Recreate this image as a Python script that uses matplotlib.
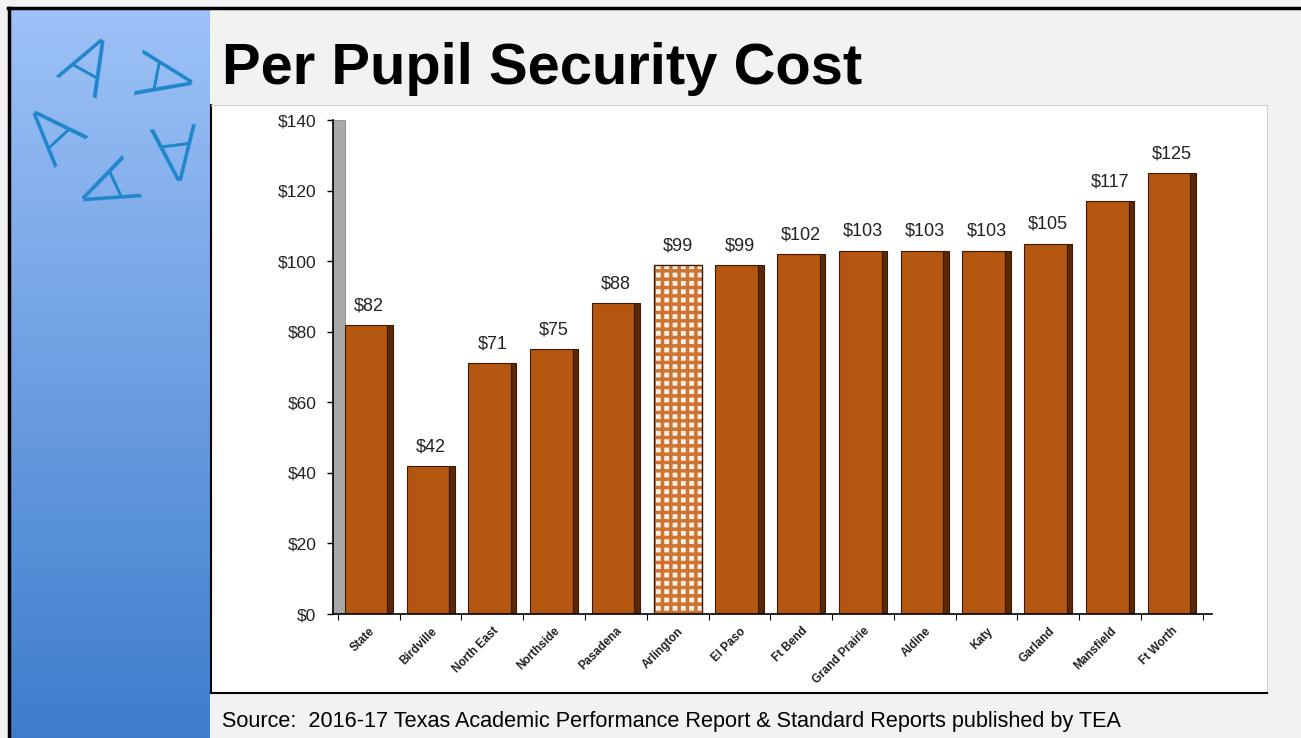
import numpy as np
import matplotlib
matplotlib.use('Agg')
import matplotlib.pyplot as plt
from matplotlib.patches import Rectangle

plt.rcParams['font.family'] = ['Liberation Sans', 'DejaVu Sans']
plt.rcParams['hatch.linewidth'] = 2.5

districts = ['State', 'Birdville', 'North East', 'Northside', 'Pasadena', 'Arlington',
             'El Paso', 'Ft Bend', 'Grand Prairie', 'Aldine', 'Katy', 'Garland',
             'Mansfield', 'Ft Worth']
cost = [82, 42, 71, 75, 88, 99, 99, 102, 103, 103, 103, 105, 117, 125]
y_ticks = [0, 20, 40, 60, 80, 100, 120, 140]
highlight = 'Arlington'

W, H = 1301, 738
fig = plt.figure(figsize=(W / 100, H / 100), dpi=100)
fig.patch.set_facecolor('#f2f2f2')


def box(x0, y0, x1, y1):
    # pixel box (top-left origin) -> figure fraction rect
    return [x0 / W, 1 - y1 / H, (x1 - x0) / W, (y1 - y0) / H]


# slide borders
fig.add_artist(plt.Line2D([8 / W, 1], [1 - 8 / H, 1 - 8 / H], color='black', lw=2.5))
fig.add_artist(plt.Line2D([9 / W, 9 / W], [0, 1 - 8 / H], color='black', lw=2.5))

# blue gradient side panel, in pixel coords
side = fig.add_axes(box(10, 9, 210, 738))
grad = np.linspace(0, 1, 256).reshape(-1, 1)
top = np.array([0.62, 0.76, 0.97])
bot = np.array([0.24, 0.49, 0.80])
img = top * (1 - grad[..., None]) + bot * grad[..., None]
side.imshow(img, aspect='auto', extent=[10, 210, 738, 9])
side.set_xlim(10, 210)
side.set_ylim(738, 9)
side.axis('off')

# logo: five "A"s arranged in a star
cx, cy, r = 116, 122, 60
for k in range(5):
    th = 49 + 72 * k
    px = cx + r * np.cos(np.deg2rad(th))
    py = cy - r * np.sin(np.deg2rad(th))
    side.text(px, py, 'A', fontsize=54, color='#1f86cc', ha='center', va='center',
              rotation=th - 150, family='DejaVu Sans', fontweight='light')

# title
fig.text(222 / W, 1 - 84 / H, 'Per Pupil Security Cost', fontsize=41.7,
         fontweight='bold', color='black', ha='left', va='baseline')

# chart image box
frame = fig.add_axes(box(211, 105, 1267, 693))
frame.set_facecolor('white')
frame.set_xticks([])
frame.set_yticks([])
for s in ['top', 'right']:
    frame.spines[s].set_color('#d0d0d0')
for s in ['left', 'bottom']:
    frame.spines[s].set_color('black')
    frame.spines[s].set_linewidth(1.5)

ax = fig.add_axes(box(333, 120, 1212, 614))
ax.set_facecolor('none')
x = np.arange(len(districts))
face_w = 0.69
side_w = 0.09

for i, (name, v) in enumerate(zip(districts, cost)):
    if name == highlight:
        ax.bar(x[i], v, width=face_w + side_w, color='#fbeee2', edgecolor='#cf7430',
               hatch='++', linewidth=0, zorder=2)
        ax.bar(x[i], v, width=face_w + side_w, fill=False, edgecolor='#3a1a05',
               linewidth=1.0, zorder=3)
    else:
        ax.bar(x[i] - side_w / 2, v, width=face_w, color='#b4560f',
               edgecolor='#3a1a05', linewidth=0.8, zorder=2)
        ax.bar(x[i] + face_w / 2, v, width=side_w, color='#5a2806',
               edgecolor='#3a1a05', linewidth=0.8, zorder=2)
    ax.text(x[i], v + 3, '$%d' % v, ha='center', va='bottom', fontsize=13,
            color='#222222')

# grey 3d wall on the left
ax.add_patch(Rectangle((0, 0), 0.014, 1, transform=ax.transAxes,
                       facecolor='#a9a9a9', edgecolor='#8a8a8a', lw=0.6, zorder=1))

ax.set_xlim(-0.58, 13.65)
ax.set_ylim(0, 140)
ax.set_yticks(y_ticks)
ax.set_yticklabels(['$%d' % t for t in y_ticks], fontsize=12.5, color='#222222')
ax.tick_params(axis='y', direction='out', length=4, width=1, pad=8)

ax.set_xticks(x)
ax.set_xticklabels(districts, rotation=45, ha='right', rotation_mode='anchor',
                   fontsize=8.5, fontweight='bold', color='#222222')
ax.tick_params(axis='x', length=0, pad=8)
ax.set_xticks(np.arange(len(districts) + 1) - 0.5, minor=True)
ax.tick_params(axis='x', which='minor', direction='out', length=4, width=0.8)

for s in ['top', 'right']:
    ax.spines[s].set_visible(False)
ax.spines['left'].set_linewidth(1.2)
ax.spines['bottom'].set_linewidth(1.2)

fig.text(222 / W, 1 - 721 / H,
         'Source:  2016-17 Texas Academic Performance Report & Standard Reports published by TEA',
         fontsize=15.6, color='black', ha='left', va='center')

fig.savefig('out.png', dpi=100, facecolor=fig.get_facecolor())
